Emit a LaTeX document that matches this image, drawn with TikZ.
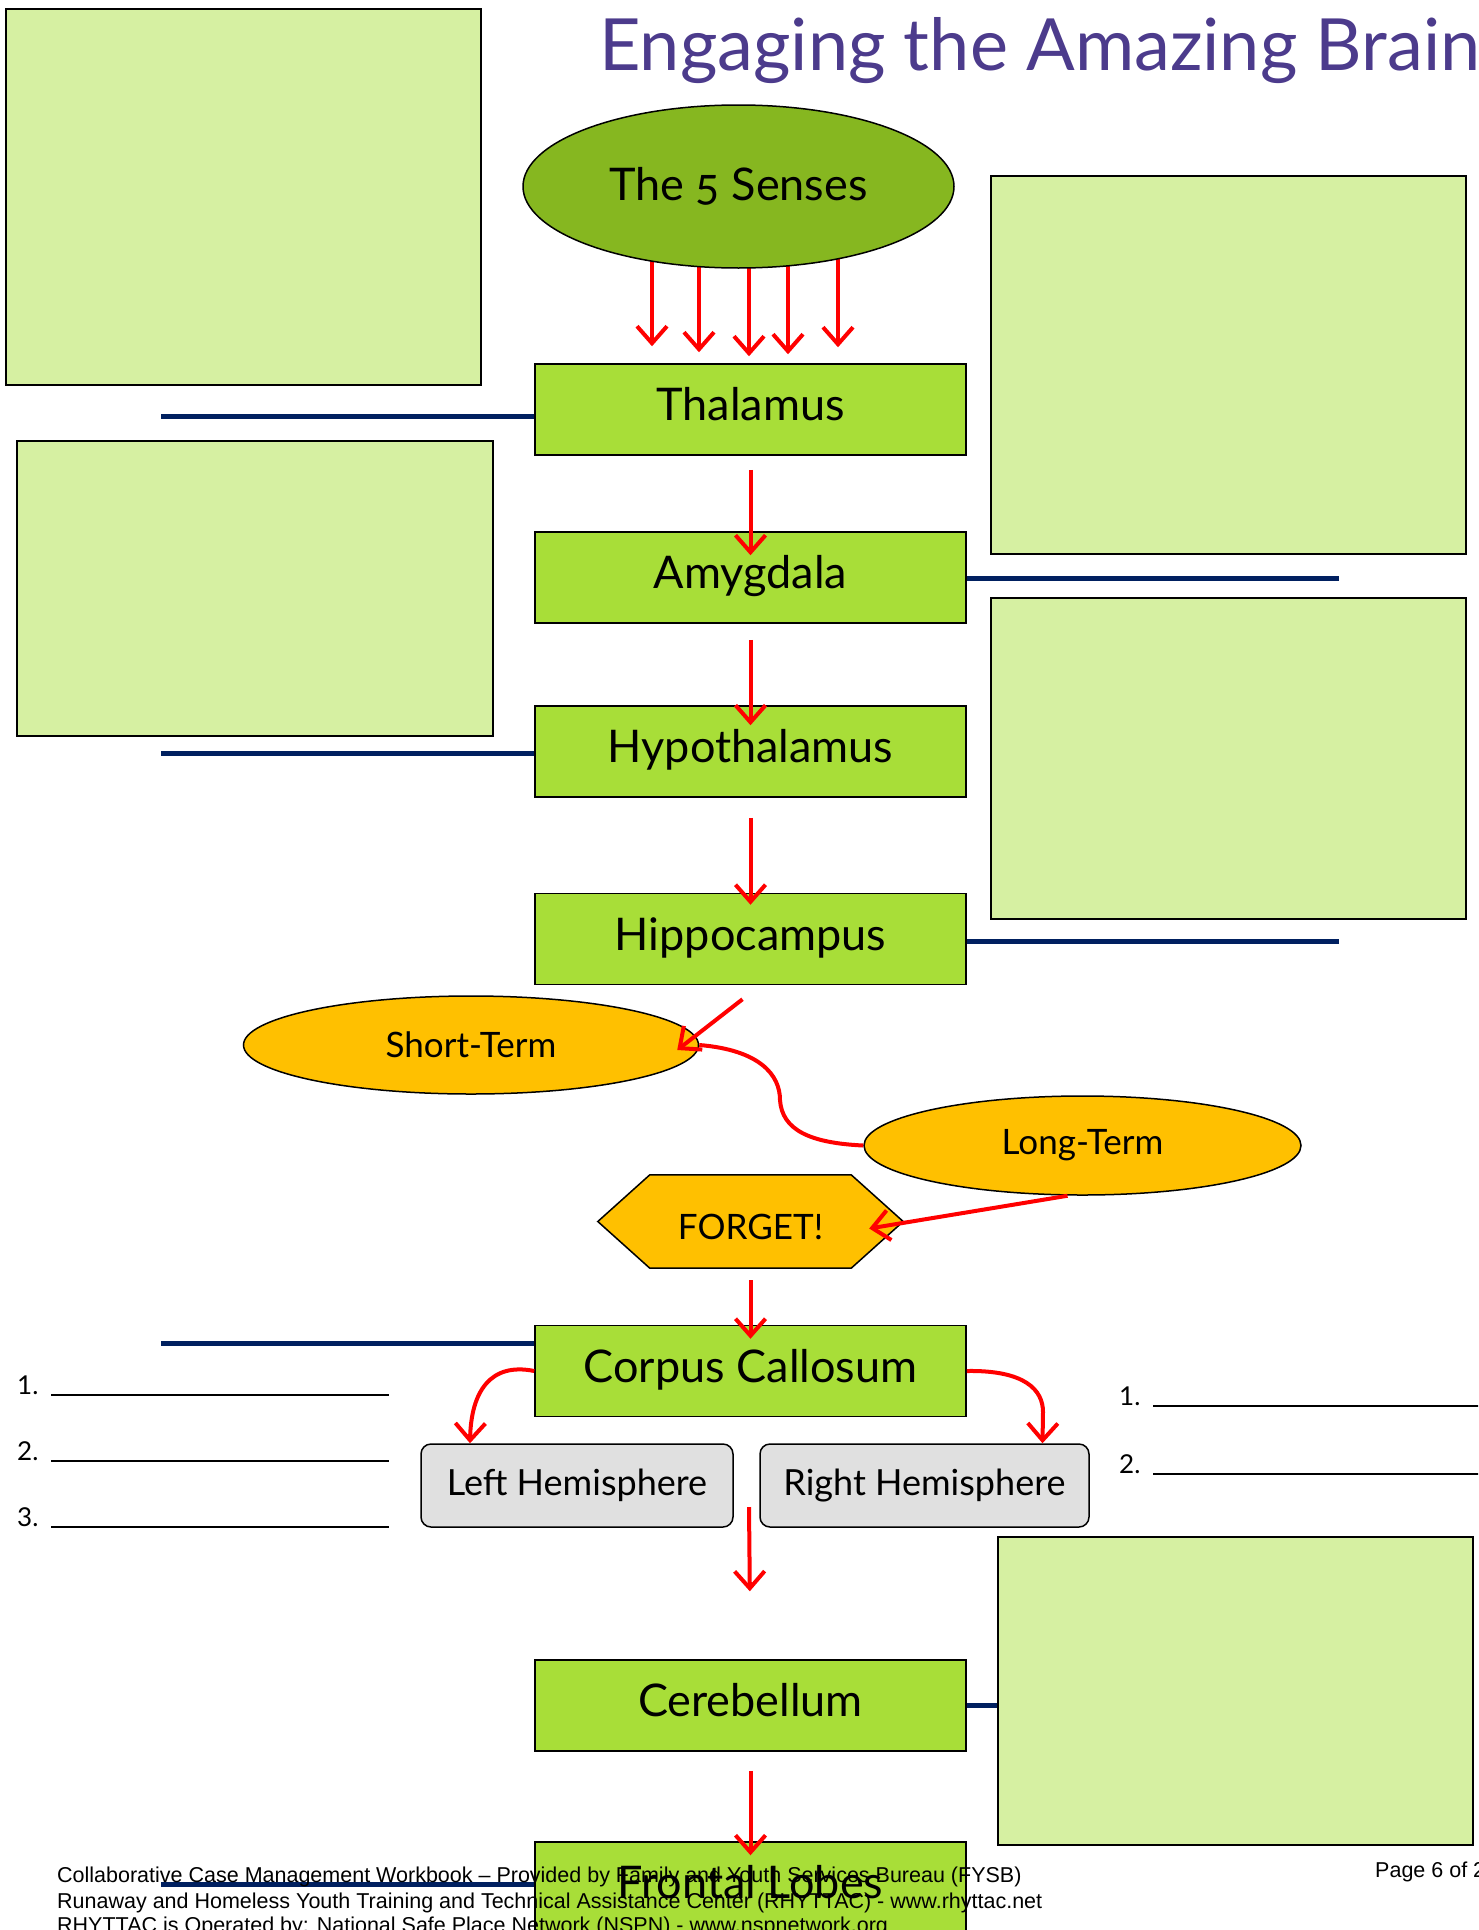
\documentclass[tikz,border=0pt]{standalone}
\usepackage{fontspec}
\setmainfont{Lato}
\newfontfamily\footerfont{Liberation Sans}
\usepackage{tikz}
\usetikzlibrary{
	arrows.meta,
	backgrounds,
	shapes.geometric
}
\definecolor{TitlePurple}{RGB}{76,59,140}
\definecolor{SenseGreen}{RGB}{134,183,32}
\definecolor{BoxGreen}{RGB}{168,222,56}
\definecolor{NoteGreen}{RGB}{214,240,162}
\definecolor{MemGold}{RGB}{255,192,0}
\definecolor{HemiGray}{RGB}{224,224,224}
\definecolor{LineNavy}{RGB}{0,32,96}

\begin{document}
\begin{tikzpicture}[x=1pt, y=-1pt,
		notebox/.style={draw, line width=1.5pt, fill=NoteGreen, inner sep=0pt},
		brainbox/.style={draw, line width=1.5pt, fill=BoxGreen, minimum width=431pt, minimum height=91pt, inner sep=0pt, text height=33pt, text depth=11pt, font=\fontsize{45}{54}\selectfont},
		memory/.style={ellipse, draw, line width=1.5pt, fill=MemGold, inner sep=0pt, font=\fontsize{35}{42}\selectfont},
		hemibox/.style={draw, line width=1.5pt, fill=HemiGray, rounded corners=10pt, minimum height=83pt, inner sep=0pt, font=\fontsize{36}{42}\selectfont},
		redarrow/.style={draw=red, line width=4pt, -{Straight Barb[length=17pt, width=30pt]}},
		navyline/.style={LineNavy, line width=5pt},
		blankitem/.style={anchor=base west, inner sep=0pt, font=\fontsize{26}{30}\selectfont},
		footline/.style={anchor=west, inner sep=0pt, font=\footerfont\fontsize{21.5}{25}\selectfont}
	]
		\useasboundingbox (0,0) rectangle (1478,1930);
		\clip (0,0) rectangle (1478,1930);
		
		\node[anchor=base west, inner sep=0pt, text=TitlePurple, font=\fontsize{72}{80}\selectfont] (title) at (599,70) {Engaging the Amazing Brain};
		
		% empty note boxes
		\node[notebox, minimum width=475pt, minimum height=376pt] (note-tl) at (243.5,197) {};
		\node[notebox, minimum width=475pt, minimum height=378pt] (note-tr) at (1228.5,365) {};
		\node[notebox, minimum width=476pt, minimum height=295pt] (note-ml) at (255,588.5) {};
		\node[notebox, minimum width=475pt, minimum height=321pt] (note-mr) at (1228.5,758.5) {};
		\node[notebox, minimum width=475pt, minimum height=308pt] (note-br) at (1235.5,1691) {};
		
		% brain parts
		\node[ellipse, draw, line width=1.5pt, fill=SenseGreen, minimum width=431pt, minimum height=163pt, inner sep=0pt, font=\fontsize{45}{54}\selectfont\addfontfeatures{Numbers=OldStyle}] (senses) at (738.5,186.5) {The 5 Senses};
		\node[brainbox] (thalamus) at (750.5,409.5) {Thalamus};
		\node[brainbox] (amygdala) at (750.5,577.5) {Amygdala};
		\node[brainbox] (hypothalamus) at (750.5,751.5) {Hypothalamus};
		\node[brainbox] (hippocampus) at (750.5,939) {Hippocampus};
		\node[memory, minimum width=455pt, minimum height=98pt] (shortterm) at (471,1045) {Short-Term};
		\node[memory, minimum width=437pt, minimum height=99pt] (longterm) at (1082.5,1145.5) {Long-Term};
		\node[minimum width=305pt, minimum height=93pt, inner sep=0pt, text height=37pt, text depth=2pt, font=\fontsize{35}{42}\selectfont] (forget) at (750.5,1221.5) {FORGET!};
		\node[brainbox] (corpus) at (750.5,1371) {Corpus Callosum};
		\node[hemibox, minimum width=312pt] (lefthemi) at (577,1485.5) {Left Hemisphere};
		\node[hemibox, minimum width=329pt] (righthemi) at (924.5,1485.5) {Right Hemisphere};
		\node[brainbox] (cerebellum) at (750.5,1705.5) {Cerebellum};
		\node[brainbox] (frontal) at (750.5,1887.5) {Frontal Lobes};
		
		\begin{scope}[on background layer]
			\draw[line width=1.5pt, fill=MemGold] (forget.west) -- ([xshift=52pt]forget.north west) -- ([xshift=-52pt]forget.north east) -- (forget.east) -- ([xshift=-52pt]forget.south east) -- ([xshift=52pt]forget.south west) -- cycle;
			% senses into the thalamus
			\foreach \x/\gap in {652/17pt, 699/11pt, 749/7pt, 788/9pt, 838/16pt}
				\draw[redarrow, shorten >=\gap] (senses.center -| \x,0) -- (thalamus.north -| \x,0);
		\end{scope}
		
		% navy lines
		\coordinate (thal-end) at (161,416);
		\coordinate (amyg-end) at (1339,578);
		\coordinate (hypo-end) at (161,753);
		\coordinate (hipp-end) at (1339,941);
		\coordinate (corp-end) at (161,1343);
		\coordinate (fron-end) at (161,1884);
		\draw[navyline] (thal-end) -- (thal-end -| thalamus.west);
		\draw[navyline] (amyg-end) -- (amyg-end -| amygdala.east);
		\draw[navyline] (hypo-end) -- (hypo-end -| hypothalamus.west);
		\draw[navyline] (hipp-end) -- (hipp-end -| hippocampus.east);
		\draw[navyline] (corp-end) -- (corp-end -| corpus.west);
		\draw[navyline] (cerebellum.east) -- (cerebellum.east -| note-br.west);
		\draw[navyline] (fron-end) -- (fron-end -| frontal.west);
		
		% red arrows
		\draw[redarrow, shorten <=14pt, shorten >=-24pt] (thalamus.south) -- (amygdala.north);
		\draw[redarrow, shorten <=16pt, shorten >=-20pt] (amygdala.south) -- (hypothalamus.north);
		\draw[redarrow, shorten <=20pt, shorten >=-12pt] (hypothalamus.south) -- (hippocampus.north);
		\draw[redarrow] ([xshift=-8pt,yshift=-14pt]hippocampus.south) -- ([xshift=-22pt,yshift=-5pt]shortterm.east);
		\draw[red, line width=4pt] (shortterm.east) .. controls (760,1050) and (780,1075) .. (780,1100) .. controls (782,1130) and (810,1143) .. (longterm.west);
		\draw[redarrow] ([xshift=-15pt]longterm.south) -- ([xshift=-34pt,yshift=-7pt]forget.east);
		\draw[redarrow, shorten <=12pt, shorten >=-14pt] (forget.south) -- (corpus.north);
		\draw[redarrow] (corpus.west) .. controls (490,1362) and (471,1392) .. ([xshift=-107pt]lefthemi.north);
		\draw[redarrow] (corpus.east) .. controls (1025,1370) and (1043,1390) .. (1043,1412) -- ([xshift=118pt]righthemi.north);
		\coordinate (hemi-gap) at (749,1507);
		\draw[redarrow, shorten >=68pt] (hemi-gap) -- (cerebellum.north);
		\draw[redarrow, shorten <=19pt, shorten >=-14pt] (cerebellum.south) -- (frontal.north);
		
		% blanks to fill in
		\node[blankitem] (left-one) at (17,1394) {1.\hspace{13pt}\rule[-2pt]{338pt}{2pt}};
		\node[blankitem] (left-two) at (17,1460) {2.\hspace{13pt}\rule[-2pt]{338pt}{2pt}};
		\node[blankitem] (left-three) at (17,1526) {3.\hspace{13pt}\rule[-2pt]{338pt}{2pt}};
		\node[blankitem] (right-one) at (1119,1405) {1.\hspace{13pt}\rule[-2pt]{338pt}{2pt}};
		\node[blankitem] (right-two) at (1119,1473) {2.\hspace{13pt}\rule[-2pt]{338pt}{2pt}};
		
		% footer
		\node[footline] (foot-one) at (57,1877) {Collaborative Case Management Workbook – Provided by Family and Youth Services Bureau (FYSB)};
		\node[footline] (foot-two) at (57,1903) {Runaway and Homeless Youth Training and Technical Assistance Center (RHYTTAC) - www.rhyttac.net};
		\node[footline] (foot-three) at (57,1927) {RHYTTAC is Operated by: National Safe Place Network (NSPN) - www.nspnetwork.org};
		\node[footline] (page) at (1375,1872) {Page 6 of 2};
	\end{tikzpicture}
\end{document}
